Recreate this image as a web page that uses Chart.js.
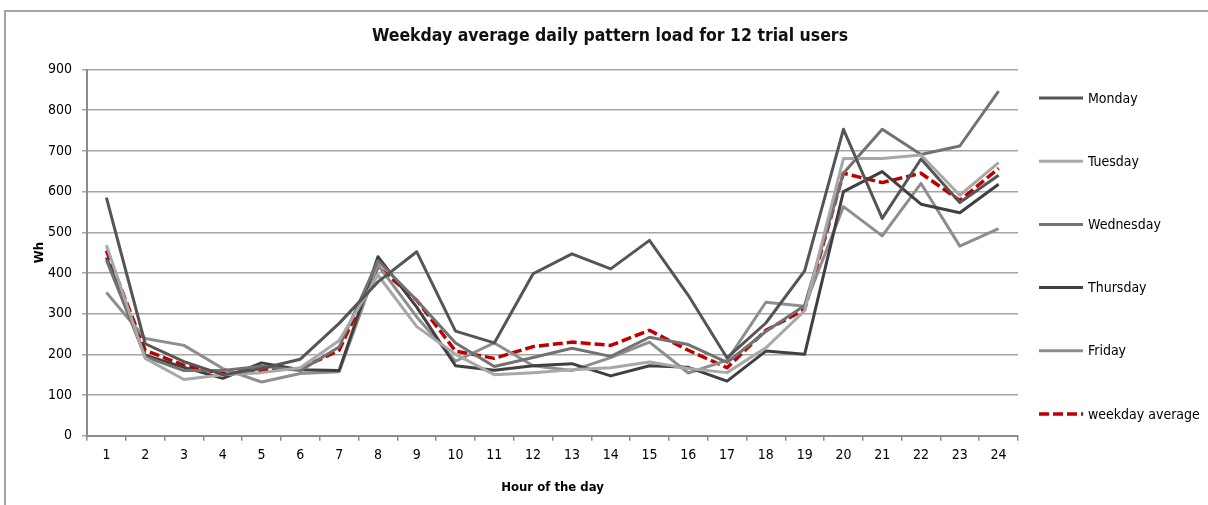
<!DOCTYPE html>
<html>
<head>
<meta charset="utf-8">
<title>Weekday average daily pattern load for 12 trial users</title>
<script src="https://cdn.jsdelivr.net/npm/chart.js@4.4.1/dist/chart.umd.min.js"></script>
<style>
  html, body { margin: 0; padding: 0; background: #fff; }
  body { width: 1208px; height: 505px; overflow: hidden; position: relative; }
  .frame { position: absolute; left: 4px; top: 10px; width: 1300px; height: 600px; border: 2px solid #a3a3a3; box-sizing: border-box; }
  .wrap { position: absolute; left: 0; top: 0; width: 1208px; height: 505px; }
</style>
</head>
<body>
<div class="frame"></div>
<div class="wrap"><canvas id="chart"></canvas></div>
<script>
// Hourly weekday load (Wh)
const HOURS = ['1', '2', '3', '4', '5', '6', '7', '8', '9', '10', '11', '12',
  '13', '14', '15', '16', '17', '18', '19', '20', '21', '22', '23', '24'];

const MONDAY = [585, 226, 182, 150, 165, 188, 276, 378, 452, 257, 228, 398,
  447, 410, 480, 345, 191, 277, 405, 753, 534, 680, 573, 640];
const TUESDAY = [468, 190, 138, 150, 155, 167, 234, 395, 268, 200, 150, 155,
  162, 167, 181, 165, 155, 216, 307, 681, 681, 690, 591, 671];
const WEDNESDAY = [432, 194, 160, 160, 171, 160, 218, 430, 333, 228, 170, 192,
  215, 195, 242, 224, 180, 256, 320, 645, 753, 691, 712, 847];
const THURSDAY = [438, 198, 168, 141, 179, 162, 160, 440, 316, 172, 161, 172,
  177, 147, 172, 168, 134, 208, 200, 600, 649, 569, 548, 618];
const FRIDAY = [352, 239, 222, 165, 132, 153, 157, 420, 292, 183, 228, 172,
  160, 192, 230, 154, 185, 328, 318, 563, 491, 620, 466, 509];
const WEEKDAY_AVG = [455, 210, 173, 152, 161, 165, 210, 415, 333, 208, 190, 219,
  230, 222, 259, 210, 167, 259, 310, 645, 622, 645, 578, 657];

const Y_TICKS = [0, 100, 200, 300, 400, 500, 600, 700, 800, 900];

const FONT = "'Liberation Sans Narrow', 'DejaVu Sans Condensed', 'Liberation Sans', Arial, sans-serif";
const AXIS_GREY = '#8c8c8c';
const GRID_GREY = '#a6a6a6';

function series(label, data, color, dash) {
  return {
    label,
    data,
    borderColor: color,
    backgroundColor: color,
    borderWidth: dash ? 3.5 : 3,
    borderDash: dash || [],
    borderJoinStyle: 'round',
    pointRadius: 0,
    tension: 0,
    fill: false,
  };
}

// legend drawn in the space reserved by the hidden right axis
const sideLegend = {
  id: 'sideLegend',
  afterDraw(chart, args, opts) {
    const ctx = chart.ctx;
    const x0 = chart.chartArea.right + opts.gap;
    ctx.save();
    chart.data.datasets.forEach((ds, i) => {
      const y = opts.top + i * opts.step;
      ctx.beginPath();
      ctx.lineWidth = ds.borderWidth;
      ctx.strokeStyle = ds.borderColor;
      ctx.setLineDash(ds.borderDash || []);
      ctx.moveTo(x0, y);
      ctx.lineTo(x0 + opts.lineLength, y);
      ctx.stroke();
      ctx.setLineDash([]);
      ctx.fillStyle = '#000';
      ctx.font = `${opts.fontSize}px ${FONT}`;
      ctx.textBaseline = 'middle';
      ctx.textAlign = 'left';
      ctx.fillText(ds.label, x0 + opts.lineLength + 5, y + 1);
    });
    ctx.restore();
  }
};

new Chart(document.getElementById('chart'), {
  type: 'line',
  data: {
    labels: HOURS,
    datasets: [
      series('Monday', MONDAY, '#555555'),
      series('Tuesday', TUESDAY, '#a8a8a8'),
      series('Wednesday', WEDNESDAY, '#727272'),
      series('Thursday', THURSDAY, '#404040'),
      series('Friday', FRIDAY, '#8e8e8e'),
      series('weekday average', WEEKDAY_AVG, '#c00000', [10, 4]),
    ]
  },
  options: {
    responsive: true,
    maintainAspectRatio: false,
    animation: false,
    layout: { padding: { left: 12, right: 0, top: 0, bottom: 0 } },
    scales: {
      x: {
        type: 'category',
        offset: true,
        afterFit: (scale) => { scale.height = 69.3; },
        grid: {
          drawOnChartArea: false,
          offset: true,
          tickLength: 5,
          color: AXIS_GREY,
          lineWidth: 1.5,
        },
        border: { display: true, color: AXIS_GREY, width: 2 },
        ticks: { color: '#000', padding: 6, font: { family: FONT, size: 14 }, maxRotation: 0, autoSkip: false },
        title: {
          display: true,
          text: 'Hour of the day',
          color: '#000',
          font: { family: FONT, size: 13, weight: 'bold' },
          padding: { top: 0, bottom: 10 },
        },
      },
      y: {
        min: 0,
        max: 900,
        afterFit: (scale) => { scale.width = 75; },
        afterBuildTicks: (scale) => { scale.ticks = Y_TICKS.map(v => ({ value: v })); },
        grid: {
          color: GRID_GREY,
          lineWidth: 1.5,
          tickLength: 5,
        },
        border: { display: true, color: AXIS_GREY, width: 2 },
        ticks: { color: '#000', padding: 10, font: { family: FONT, size: 14 } },
        title: {
          display: true,
          text: 'Wh',
          color: '#000',
          font: { family: FONT, size: 13, weight: 'bold' },
          padding: { top: 20, bottom: 0 },
        },
      },
      // empty axis that only reserves room for the legend
      legendSpace: {
        type: 'linear',
        position: 'right',
        min: 0,
        max: 900,
        afterFit: (scale) => { scale.width = 190; },
        grid: { display: false },
        border: { display: false },
        ticks: { display: false },
      },
    },
    plugins: {
      legend: { display: false },
      tooltip: { enabled: false },
      title: {
        display: true,
        text: 'Weekday average daily pattern load for 12 trial users',
        color: '#111',
        font: { family: FONT, size: 17.5, weight: 'bold' },
        padding: { top: 26, bottom: 22.5 },
      },
      sideLegend: { gap: 21, top: 98, step: 63.2, lineLength: 44, fontSize: 14 },
    },
  },
  plugins: [sideLegend],
});
</script>
</body>
</html>
